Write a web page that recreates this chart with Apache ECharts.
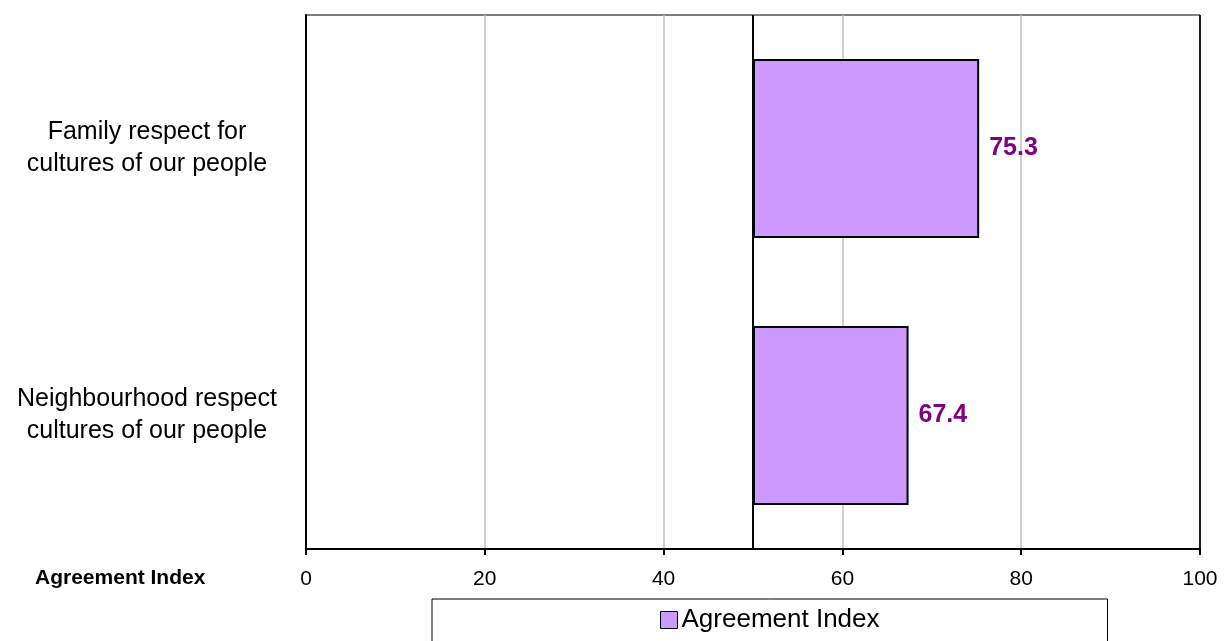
<!DOCTYPE html>
<html>
<head>
<meta charset="utf-8">
<script src="https://cdn.jsdelivr.net/npm/echarts@6/dist/echarts.min.js"></script>
<style>
html,body{margin:0;padding:0;background:#fff;}
#chart{width:1228px;height:641px;}
</style>
</head>
<body>
<div id="chart"></div>
<script>
// Data (top to bottom as displayed)
var categories = ['Family respect for\ncultures of our people', 'Neighbourhood respect\ncultures of our people'];
var values = [75.3, 67.4];
var baseline = 50;
var xTicks = [0, 20, 40, 60, 80, 100];
var seriesName = 'Agreement Index';
var axisTitle = 'Agreement Index';

var font = 'Arial, "Liberation Sans", sans-serif';
var chart = echarts.init(document.getElementById('chart'), null, {renderer: 'canvas'});

var baseData = values.map(function () { return baseline; });
var diffData = values.map(function (v) { return +(v - baseline).toFixed(4); });

var option = {
  animation: false,
  backgroundColor: '#ffffff',
  grid: {
    left: 306, right: 28, top: 15, bottom: 92,
    show: true, borderColor: '#000', borderWidth: 1, backgroundColor: 'transparent'
  },
  xAxis: {
    type: 'value',
    min: xTicks[0], max: xTicks[xTicks.length - 1], interval: 20,
    axisLine: {show: true, lineStyle: {color: '#000', width: 2}},
    axisTick: {show: true, length: 6, lineStyle: {color: '#000', width: 2}},
    splitLine: {show: true, lineStyle: {color: ['#000', '#c0c0c0', '#c0c0c0', '#c0c0c0', '#c0c0c0', '#000'], width: 1.5}},
    axisLabel: {fontFamily: font, fontSize: 21, color: '#000', margin: 20}
  },
  yAxis: {
    type: 'category',
    data: categories,
    inverse: true,
    axisLine: {show: true, lineStyle: {color: '#000', width: 2}},
    axisTick: {show: false},
    axisLabel: {fontFamily: font, fontSize: 25, color: '#000', margin: 159, lineHeight: 32, align: 'center', padding: [10, 0, 0, 0]},
    splitLine: {show: false}
  },
  legend: {
    show: true,
    bottom: -22,
    left: 432,
    padding: [8, 228, 30, 228],
    borderColor: '#000', borderWidth: 1,
    itemWidth: 17, itemHeight: 17,
    textStyle: {fontFamily: font, fontSize: 26, color: '#000', padding: [3, 0, 0, -1]},
    data: [{name: seriesName, icon: 'rect', itemStyle: {color: '#cc99ff', borderColor: '#000', borderWidth: 1}}]
  },
  graphic: [{
    type: 'text', left: 35, top: 568,
    style: {text: axisTitle, fontFamily: font, fontSize: 21, fontWeight: 'bold', fill: '#000'}
  }],
  series: [
    {
      type: 'bar', name: 'base', stack: 'a', data: baseData,
      itemStyle: {color: 'transparent'}, silent: true,
      barCategoryGap: '33%', legendHoverLink: false
    },
    {
      type: 'bar', name: seriesName, stack: 'a', data: diffData,
      barCategoryGap: '33%',
      itemStyle: {color: '#cc99ff', borderColor: '#000', borderWidth: 2},
      label: {
        show: true, position: 'right', distance: 10,
        fontFamily: font, fontSize: 25, fontWeight: 'bold', color: '#800080',
        formatter: function (p) { return values[p.dataIndex].toFixed(1); }
      },
      markLine: {
        silent: true, symbol: 'none', label: {show: false},
        lineStyle: {color: '#000', type: 'solid', width: 2},
        data: [{xAxis: baseline}]
      }
    }
  ]
};
chart.setOption(option);
</script>
</body>
</html>
